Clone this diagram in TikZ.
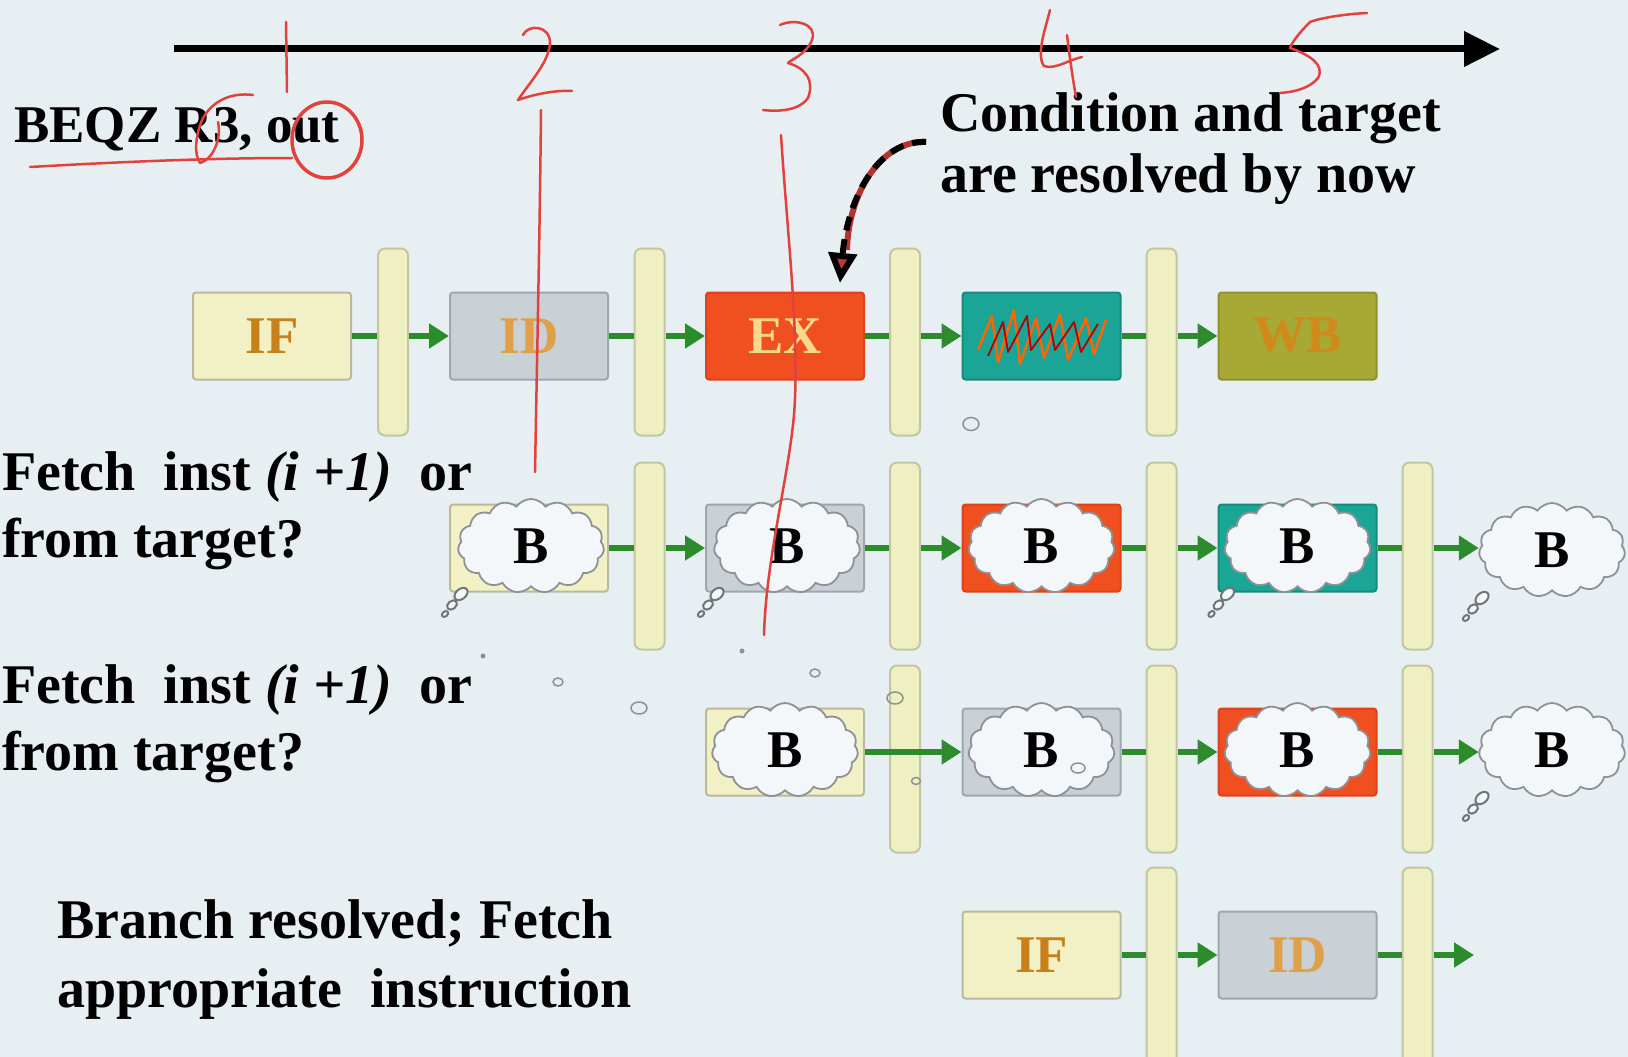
\documentclass[tikz,border=0pt]{standalone}
\usepackage{fontspec}
\setmainfont{Liberation Serif}
\usetikzlibrary{arrows.meta,shapes.symbols,shapes.geometric}
\definecolor{bgc}{HTML}{E7EFF3}
\definecolor{latchfill}{HTML}{EEF0C2}
\definecolor{latchdraw}{HTML}{C3C6A2}
\definecolor{iffill}{HTML}{F2F1C6}
\definecolor{ifdraw}{HTML}{B9B99C}
\definecolor{idfill}{HTML}{C9D1D6}
\definecolor{iddraw}{HTML}{9EA7AD}
\definecolor{exfill}{HTML}{F04F1F}
\definecolor{exdraw}{HTML}{DA4418}
\definecolor{memfill}{HTML}{1BA596}
\definecolor{memdraw}{HTML}{178A7E}
\definecolor{wbfill}{HTML}{A7A934}
\definecolor{wbdraw}{HTML}{8F9128}
\definecolor{iftext}{HTML}{C8801A}
\definecolor{idtext}{HTML}{E0A04A}
\definecolor{extext}{HTML}{F6D98A}
\definecolor{wbtext}{HTML}{D08A1A}
\definecolor{pgreen}{HTML}{2C8C2C}
\definecolor{penred}{HTML}{E2413C}
\definecolor{cloudline}{HTML}{8E9296}
\definecolor{cloudfill}{HTML}{F4F7F9}
\newcommand\lblfont{\fontsize{53}{53}\selectfont\bfseries}
\newcommand\txtfont{\fontsize{56}{62}\selectfont\bfseries}
\begin{document}
\begin{tikzpicture}[x=1pt,y=-1pt,
  stagebox/.style={draw, line width=2, rounded corners=3, minimum width=158, minimum height=87, inner sep=0, font=\lblfont},
  latchbar/.style={draw=latchdraw, fill=latchfill, line width=2, rounded corners=7, minimum width=30, minimum height=187, inner sep=0},
  bcloud/.style={cloud, cloud puffs=15, cloud puff arc=110, aspect=1.55, draw=cloudline, fill=cloudfill, line width=1.8, minimum width=146, minimum height=94, inner sep=0, font=\lblfont},
  tailbub/.style={ellipse, draw=cloudline!80!black, fill=cloudfill, line width=2, inner sep=0, rotate=40},
  gline/.style={draw=pgreen, line width=5.5},
  garrow/.style={gline, -{Triangle[length=20pt,width=24pt]}},
  txt/.style={font=\txtfont, inner sep=0, anchor=base west},
  pen/.style={draw=penred, line width=2.5, line cap=round, line join=round},
  dotc/.style={ellipse, draw=cloudline, line width=1.5, inner sep=0}
]
\clip (0,0) rectangle (1628,1057);
\fill[bgc] (0,0) rectangle (1628,1057);
\useasboundingbox (0,0) rectangle (1628,1057);

% timeline
\coordinate (tl0) at (174,49);
\coordinate (tl1) at (1500,49);
\draw[line width=7, -{Triangle[length=36pt,width=34pt]}] (tl0) -- (tl1);

% ---------- row 1 ----------
\node[stagebox, fill=iffill, draw=ifdraw, text=iftext] (r1a) at (272,336) {IF};
\node[stagebox, fill=idfill, draw=iddraw, text=idtext] (r1b) at (529,336) {ID};
\node[stagebox, fill=exfill, draw=exdraw, text=extext] (r1c) at (785,336) {EX};
\node[stagebox, fill=memfill, draw=memdraw] (r1d) at (1041.5,336) {};
\node[stagebox, fill=wbfill, draw=wbdraw, text=wbtext] (r1e) at (1297.5,336) {WB};
\draw[draw=orange!80!red, line width=2.5, line join=round] (978,350) -- (992,316) -- (998,362) -- (1014,310) -- (1020,364) -- (1036,318) -- (1044,358) -- (1060,314) -- (1068,360) -- (1086,318) -- (1094,354) -- (1106,320);
\draw[draw=red!70!black, line width=1.8, line join=round] (988,356) -- (1003,322) -- (1008,352) -- (1027,316) -- (1031,350) -- (1050,324) -- (1055,350) -- (1074,322) -- (1081,352) -- (1098,324);
\node[latchbar] (l1a) at (393,342) {};
\node[latchbar] (l2a) at (649.5,342) {};
\node[latchbar] (l3a) at (905,342) {};
\node[latchbar] (l4a) at (1161.5,342) {};
\draw[gline] (r1a.east) -- (r1a.east -| l1a.west);
\draw[garrow] (r1a.east -| l1a.east) -- (r1b.west);
\draw[gline] (r1b.east) -- (r1b.east -| l2a.west);
\draw[garrow] (r1b.east -| l2a.east) -- (r1c.west);
\draw[gline] (r1c.east) -- (r1c.east -| l3a.west);
\draw[garrow] (r1c.east -| l3a.east) -- (r1d.west);
\draw[gline] (r1d.east) -- (r1d.east -| l4a.west);
\draw[garrow] (r1d.east -| l4a.east) -- (r1e.west);

% ---------- row 2 ----------
\node[stagebox, fill=iffill, draw=ifdraw] (r2b) at (529,548) {};
\node[stagebox, fill=idfill, draw=iddraw] (r2c) at (785,548) {};
\node[stagebox, fill=exfill, draw=exdraw] (r2d) at (1041.5,548) {};
\node[stagebox, fill=memfill, draw=memdraw] (r2e) at (1297.5,548) {};
\node[bcloud] (c2b) at (531,546) {B};
\node[bcloud] (c2c) at (787,546) {B};
\node[bcloud] (c2d) at (1041.5,546) {B};
\node[bcloud] (c2e) at (1297.5,546) {B};
\node[bcloud] (c2f) at (1552,550) {B};
\foreach \cx/\cy/\nm in {531/546/t2b, 787/546/t2c, 1297.5/546/t2e, 1552/550/t2f}{
  \node[tailbub, minimum width=15, minimum height=10] (\nm1) at (\cx-70,\cy+48) {};
  \node[tailbub, minimum width=11, minimum height=8] (\nm2) at (\cx-79,\cy+59) {};
  \node[tailbub, minimum width=7, minimum height=5] (\nm3) at (\cx-86,\cy+68) {};
}
\node[latchbar] (l2b) at (649.5,556) {};
\node[latchbar] (l3b) at (905,556) {};
\node[latchbar] (l4b) at (1161.5,556) {};
\node[latchbar] (l5b) at (1417.5,556) {};
\draw[gline] (r2b.east) -- (r2b.east -| l2b.west);
\draw[garrow] (r2b.east -| l2b.east) -- (r2c.west);
\draw[gline] (r2c.east) -- (r2c.east -| l3b.west);
\draw[garrow] (r2c.east -| l3b.east) -- (r2d.west);
\draw[gline] (r2d.east) -- (r2d.east -| l4b.west);
\draw[garrow] (r2d.east -| l4b.east) -- (r2e.west);
\draw[gline] (r2e.east) -- (r2e.east -| l5b.west);
\draw[garrow] (r2e.east -| l5b.east) -- (r2e.east -| c2f.west);

% ---------- row 3 ----------
\node[stagebox, fill=iffill, draw=ifdraw] (r3c) at (785,752) {};
\node[stagebox, fill=idfill, draw=iddraw] (r3d) at (1041.5,752) {};
\node[stagebox, fill=exfill, draw=exdraw] (r3e) at (1297.5,752) {};
\node[bcloud] (c3c) at (785,750) {B};
\node[bcloud] (c3d) at (1041.5,750) {B};
\node[bcloud] (c3e) at (1297.5,750) {B};
\node[bcloud] (c3f) at (1552,750) {B};
\node[tailbub, minimum width=15, minimum height=10] (t3f1) at (1482,798) {};
\node[tailbub, minimum width=11, minimum height=8] (t3f2) at (1473,809) {};
\node[tailbub, minimum width=7, minimum height=5] (t3f3) at (1466,818) {};
\node[dotc, minimum width=14, minimum height=10] (d3d) at (1078,768) {};
\node[latchbar] (l3c) at (905,759) {};
\node[latchbar] (l4c) at (1161.5,759) {};
\node[latchbar] (l5c) at (1417.5,759) {};
\draw[garrow] (r3c.east) -- (r3d.west);
\draw[gline] (r3d.east) -- (r3d.east -| l4c.west);
\draw[garrow] (r3d.east -| l4c.east) -- (r3e.west);
\draw[gline] (r3e.east) -- (r3e.east -| l5c.west);
\draw[garrow] (r3e.east -| l5c.east) -- (r3e.east -| c3f.west);

% ---------- row 4 ----------
\node[stagebox, fill=iffill, draw=ifdraw, text=iftext] (r4d) at (1041.5,955) {IF};
\node[stagebox, fill=idfill, draw=iddraw, text=idtext] (r4e) at (1297.5,955) {ID};
\node[latchbar, minimum height=205] (l4d) at (1161.5,970) {};
\node[latchbar, minimum height=205] (l5d) at (1417.5,970) {};
\coordinate (r4end) at (1474,955);
\draw[gline] (r4d.east) -- (r4d.east -| l4d.west);
\draw[garrow] (r4d.east -| l4d.east) -- (r4e.west);
\draw[gline] (r4e.east) -- (r4e.east -| l5d.west);
\draw[garrow] (r4e.east -| l5d.east) -- (r4end);

% small bubbles
\node[dotc, minimum width=16, minimum height=13] (o1) at (971,424) {};
\node[dotc, minimum width=10, minimum height=8] (o2) at (558,682) {};
\node[dotc, minimum width=16, minimum height=12] (o3) at (639,708) {};
\node[dotc, minimum width=10, minimum height=8] (o4) at (815,673) {};
\node[dotc, minimum width=16, minimum height=12] (o5) at (895,698) {};
\node[dotc, minimum width=9, minimum height=7] (o6) at (916,781) {};
\fill[cloudline] (483,656) circle (2.5);
\fill[cloudline] (742,651) circle (2.5);

% ---------- texts ----------
\node[txt, font=\fontsize{53}{62}\selectfont\bfseries] (beqz) at (14,142) {BEQZ R3, out};
\node[txt] (cond1) at (940,131) {Condition and target};
\node[txt] (cond2) at (940,192) {are resolved by now};
\node[txt] (f1a) at (2,490) {Fetch\ \ inst \textit{(i +1)}\ \ or};
\node[txt] (f1b) at (2,557) {from target?};
\node[txt] (f2a) at (2,703) {Fetch\ \ inst \textit{(i +1)}\ \ or};
\node[txt] (f2b) at (2,770) {from target?};
\node[txt] (br1) at (57,938) {Branch resolved; Fetch};
\node[txt] (br2) at (57,1007) {appropriate\ \ instruction};

% ---------- dashed arrow ----------
\coordinate (dst) at (926,142);
\coordinate (den) at (840,283);
\draw[draw=penred!80!black, line width=6] (dst) .. controls (880,140) and (848,195) .. (847,250);
\draw[line width=6, dash pattern=on 14pt off 9pt, -{Triangle[length=30pt,width=28pt,fill=penred!85!black]}] (dst) .. controls (880,140) and (848,195) .. (den);

% ---------- red pen annotations ----------
\draw[pen] (286,22) -- (287,92);
\draw[pen] (523,35) .. controls (528,24) and (550,25) .. (550,43) .. controls (549,62) and (530,82) .. (518,100) .. controls (535,94) and (556,90) .. (572,91);
\draw[pen] (541,110) .. controls (540,220) and (537,360) .. (535,472);
\draw[pen] (780,25) .. controls (795,18) and (818,24) .. (812,40) .. controls (806,55) and (790,60) .. (788,63) .. controls (805,68) and (815,80) .. (808,98) .. controls (800,110) and (780,112) .. (763,110);
\draw[pen] (781,135) .. controls (787,230) and (800,340) .. (794,415) .. controls (788,480) and (766,560) .. (764,635);
\draw[pen] (1050,10) .. controls (1045,30) and (1036,55) .. (1044,66) .. controls (1055,70) and (1068,60) .. (1082,57);
\draw[pen] (1067,35) .. controls (1070,60) and (1073,80) .. (1076,97);
\draw[pen] (1367,13) .. controls (1345,14) and (1320,18) .. (1310,22) .. controls (1300,32) and (1292,42) .. (1290,48) .. controls (1310,55) and (1325,65) .. (1318,78) .. controls (1310,88) and (1295,92) .. (1280,93);
\draw[pen] (30,167) .. controls (100,163) and (200,158) .. (292,158);
\draw[pen] (253,95) .. controls (230,92) and (212,102) .. (203,118) .. controls (195,135) and (194,155) .. (200,163) .. controls (212,160) and (222,140) .. (218,122);
\draw[pen, line width=3.5] (327,140) ellipse [x radius=35, y radius=38];
\end{tikzpicture}
\end{document}
